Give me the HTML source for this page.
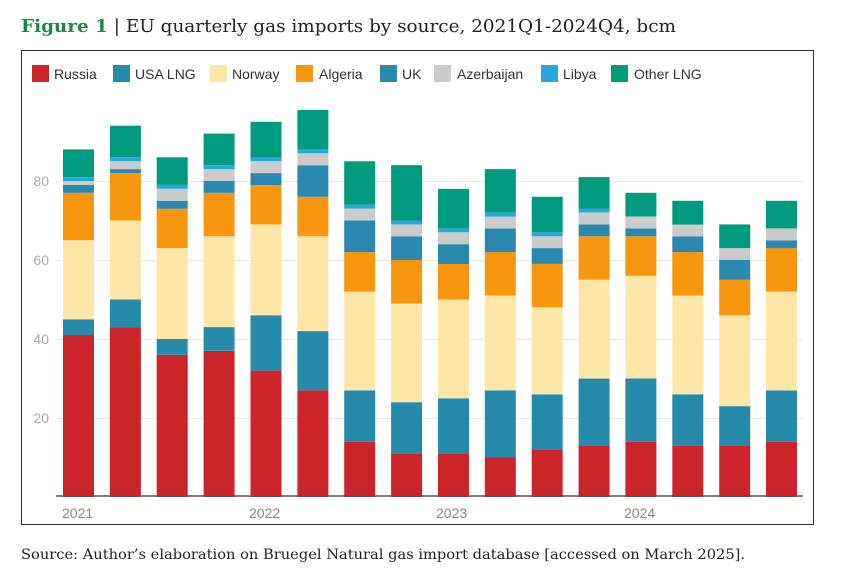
<!DOCTYPE html>
<html><head><meta charset="utf-8"><style>
body{margin:0;background:#fff;width:841px;height:574px;overflow:hidden}
svg{display:block}
</style></head><body>
<svg width="841" height="574" xmlns="http://www.w3.org/2000/svg">
<text x="21" y="32" font-family="DejaVu Serif, serif" font-size="18" fill="#222" textLength="655" lengthAdjust="spacingAndGlyphs"><tspan fill="#1c8a44" font-weight="bold">Figure 1</tspan> | EU quarterly gas imports by source, 2021Q1-2024Q4, bcm</text>
<rect x="21.5" y="50.5" width="792" height="474" fill="#fff" stroke="#333" stroke-width="1"/>
<g font-family="Liberation Sans, sans-serif" font-size="14" fill="#333">
<rect x="32" y="65" width="17" height="17" fill="#cc2529"/><text x="54" y="79">Russia</text>
<rect x="113" y="65" width="17" height="17" fill="#268bab"/><text x="135" y="79">USA LNG</text>
<rect x="210" y="65" width="17" height="17" fill="#fde6a8"/><text x="232" y="79">Norway</text>
<rect x="296" y="65" width="17" height="17" fill="#f7960f"/><text x="319" y="79">Algeria</text>
<rect x="380" y="65" width="17" height="17" fill="#2b89b0"/><text x="402" y="79">UK</text>
<rect x="434" y="65" width="17" height="17" fill="#cbcbcb"/><text x="457" y="79">Azerbaijan</text>
<rect x="541" y="65" width="17" height="17" fill="#27a8d8"/><text x="563" y="79">Libya</text>
<rect x="611" y="65" width="17" height="17" fill="#009a7e"/><text x="634" y="79">Other LNG</text>
</g>
<g stroke="#e8e8e8" stroke-width="1">
<line x1="56" x2="803" y1="181.5" y2="181.5"/><line x1="56" x2="803" y1="260.5" y2="260.5"/>
<line x1="56" x2="803" y1="339.5" y2="339.5"/><line x1="56" x2="803" y1="418.5" y2="418.5"/>
</g>
<g font-family="Liberation Sans, sans-serif" font-size="14" fill="#aaa" text-anchor="end">
<text x="49" y="186">80</text><text x="49" y="265">60</text><text x="49" y="344">40</text><text x="49" y="423">20</text>
</g>
<g id="bars"></g>
<line x1="56" x2="803" y1="496" y2="496" stroke="#555" stroke-width="1.5"/>
<g font-family="Liberation Sans, sans-serif" font-size="14" fill="#888">
<text x="62" y="518">2021</text><text x="249" y="518">2022</text><text x="436" y="518">2023</text><text x="624" y="518">2024</text>
</g>
<text x="21" y="559" font-family="DejaVu Serif, serif" font-size="14" fill="#222" textLength="724" lengthAdjust="spacingAndGlyphs">Source: Author’s elaboration on Bruegel Natural gas import database [accessed on March 2025].</text>
</svg>
<script>
var d=[[41,45,65,77,79,80,81,88],[43,50,70,82,83,85,86,94],[36,40,63,73,75,78,79,86],[37,43,66,77,80,83,84,92],[32,46,69,79,82,85,86,95],[27,42,66,76,84,87,88,98],[14,27,52,62,70,73,74,85],[11,24,49,60,66,69,70,84],[11,25,50,59,64,67,68,78],[10,27,51,62,68,71,72,83],[12,26,48,59,63,66,67,76],[13,30,55,66,69,72,73,81],[14,30,56,66,68,71,71,77],[13,26,51,62,66,69,69,75],[13,23,46,55,60,63,63,69],[14,27,52,63,65,68,68,75]];
var c=["#cc2529","#268bab","#fde6a8","#f7960f","#2b89b0","#cbcbcb","#27a8d8","#009a7e"];
var s="",B=497,k=3.95;
d.forEach(function(b,i){var x=63+i*46.87,p=0;b.forEach(function(v,j){if(v>p){var y1=B-v*k,y0=B-p*k;s+='<rect x="'+x.toFixed(1)+'" y="'+y1.toFixed(1)+'" width="31" height="'+(y0-y1).toFixed(1)+'" fill="'+c[j]+'"/>';}p=v;});});
document.getElementById("bars").innerHTML=s;
</script>
</body></html>
